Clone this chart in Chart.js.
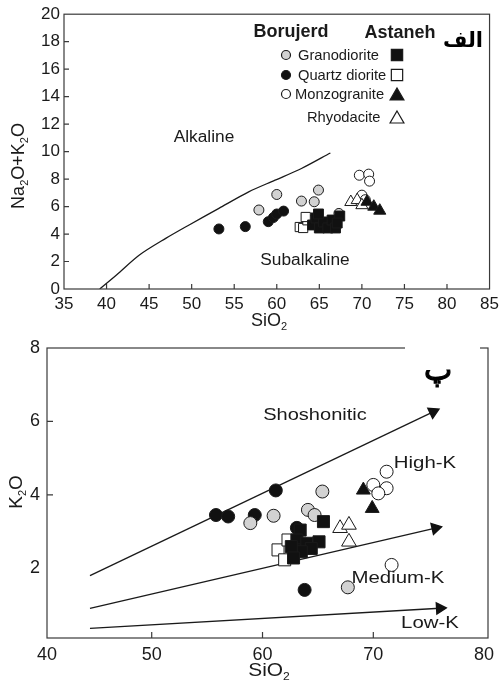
<!DOCTYPE html>
<html><head><meta charset="utf-8">
<script src="https://cdn.jsdelivr.net/npm/chart.js@4.4.0/dist/chart.umd.min.js"></script>
<style>
html,body{margin:0;padding:0;background:#fff;width:504px;height:684px;overflow:hidden}
canvas{position:absolute;left:0}
#c1{top:0}
#c2{top:330px}
</style>
</head><body>
<canvas id="c2" width="504" height="354"></canvas>
<canvas id="c1" width="504" height="336"></canvas>
<script>
// ================= DATA: chart 1 (TAS, Na2O+K2O vs SiO2) =================
const tasXTicks = [35, 40, 45, 50, 55, 60, 65, 70, 75, 80, 85];
const tasYTicks = [0, 2, 4, 6, 8, 10, 12, 14, 16, 18, 20];
const tasBoundarySiO2 = [39.2, 41.2, 43.9, 47.0, 49.7, 53.2, 56.7, 59.8, 62.9, 66.3];
const tasBoundaryAlk  = [0.0, 1.04, 2.49, 3.70, 4.66, 5.87, 7.07, 7.92, 8.77, 9.90];
// Borujerd
const tasBGranoSiO2 = [57.9, 60.0, 62.9, 64.4, 64.9, 67.3];
const tasBGranoAlk  = [5.75, 6.88, 6.40, 6.35, 7.20, 5.50];
const tasBQdSiO2 = [53.2, 56.3, 59.0, 59.6, 60.0, 60.8];
const tasBQdAlk  = [4.37, 4.54, 4.90, 5.20, 5.46, 5.67];
const tasBMonzoSiO2 = [69.7, 70.8, 70.9, 70.0, 70.4];
const tasBMonzoAlk  = [8.28, 8.36, 7.85, 6.83, 6.50];
// Astaneh
const tasAGranoSiO2 = [64.2, 64.6, 65.0, 65.5, 66.0, 66.5, 66.9, 67.4, 67.1, 64.9];
const tasAGranoAlk  = [4.66, 5.17, 4.44, 4.88, 4.44, 5.02, 4.44, 5.31, 4.80, 5.46];
const tasAQdSiO2 = [62.7, 63.1, 63.6, 63.4];
const tasAQdAlk  = [4.51, 4.44, 5.00, 5.24];
const tasAMonzoSiO2 = [70.6, 71.4, 72.1];
const tasAMonzoAlk  = [6.35, 5.99, 5.70];
const tasARhyoSiO2 = [68.7, 69.45, 70.0];
const tasARhyoAlk  = [6.33, 6.47, 6.10];

// ================= DATA: chart 2 (K2O vs SiO2) =================
const kXTickValues = [40.55, 50, 60, 70, 80];
const kXTickLabels = ['40', '50', '60', '70', '80'];
const kYTicks = [2, 4, 6, 8];
const kShoLineSiO2 = [44.43, 75.4];
const kShoLineK2O  = [1.80, 6.26];
const kHighLineSiO2 = [44.43, 75.6];
const kHighLineK2O  = [0.91, 3.09];
const kMedLineSiO2 = [44.43, 76.0];
const kMedLineK2O  = [0.36, 0.91];
// Borujerd
const kBGranoSiO2 = [58.9, 61.0, 64.1, 64.7, 65.4, 67.7];
const kBGranoK2O  = [3.23, 3.43, 3.59, 3.45, 4.09, 1.48];
const kBQdSiO2 = [55.8, 56.9, 59.3, 61.2, 63.8, 63.1];
const kBQdK2O  = [3.45, 3.41, 3.45, 4.12, 1.41, 3.10];
const kBMonzoSiO2 = [71.2, 70.0, 71.2, 70.45, 71.65];
const kBMonzoK2O  = [4.63, 4.27, 4.18, 4.04, 2.09];
// Astaneh
const kAGranoSiO2 = [65.5, 65.1, 63.4, 63.1, 62.9, 64.0, 64.4, 63.5, 62.6, 62.8];
const kAGranoK2O  = [3.27, 2.72, 3.04, 2.77, 2.50, 2.68, 2.54, 2.45, 2.59, 2.28];
const kAQdSiO2 = [61.4, 62.3, 62.0];
const kAQdK2O  = [2.50, 2.77, 2.23];
const kAMonzoSiO2 = [69.1, 69.9];
const kAMonzoK2O  = [4.13, 3.63];
const kARhyoSiO2 = [67.0, 67.8, 67.8];
const kARhyoK2O  = [3.09, 3.18, 2.72];

// ================= labels =================
const rockTypes = ['Granodiorite', 'Quartz diorite', 'Monzogranite', 'Rhyodacite'];
const plutons = ['Borujerd', 'Astaneh'];

// ================= helpers =================
const pts = (xs, ys) => xs.map((x, i) => ({x: x, y: ys[i]}));
const FONT = "'Liberation Sans', Arial, sans-serif";
const INK = '#1a1a1a';
const GRAY = '#d2d2d2';

function richText(ctx, segs, x, y, size, opts) {
  opts = opts || {};
  const fam = opts.family || FONT;
  const wt = opts.bold ? 'bold ' : '';
  const sx = opts.scaleX || 1;
  const fontFor = s => wt + (s[1] ? Math.round(size * 0.6) : size) + 'px ' + fam;
  let w = 0;
  segs.forEach(s => { ctx.font = fontFor(s); w += ctx.measureText(s[0]).width; });
  ctx.save();
  ctx.translate(x, y);
  if (opts.rotate) ctx.rotate(opts.rotate);
  ctx.scale(sx, 1);
  let cx = opts.align === 'left' ? 0 : (opts.align === 'right' ? -w : -w / 2);
  ctx.textBaseline = 'middle';
  ctx.textAlign = 'left';
  ctx.fillStyle = opts.color || INK;
  segs.forEach(s => {
    ctx.font = fontFor(s);
    ctx.fillText(s[0], cx, s[1] ? size * 0.32 : 0);
    if (opts.stroke) { ctx.strokeStyle = opts.color || INK; ctx.lineWidth = opts.stroke; ctx.strokeText(s[0], cx, s[1] ? size * 0.32 : 0); }
    cx += ctx.measureText(s[0]).width;
  });
  ctx.restore();
}

function frameAndTicks(chart, tickLen, skipEdges) {
  const ctx = chart.ctx, a = chart.chartArea;
  const xs = chart.scales.x, ys = chart.scales.y;
  ctx.save();
  ctx.strokeStyle = '#3a3a3a';
  ctx.lineWidth = 1.2;
  ctx.strokeRect(a.left, a.top, a.right - a.left, a.bottom - a.top);
  ctx.beginPath();
  xs.ticks.forEach((t, i) => {
    if (skipEdges && (i === 0 || i === xs.ticks.length - 1)) return;
    const p = xs.getPixelForValue(t.value);
    ctx.moveTo(p, a.bottom); ctx.lineTo(p, a.bottom - tickLen);
  });
  ys.ticks.forEach((t, i) => {
    if (skipEdges && (i === 0 || i === ys.ticks.length - 1)) return;
    const p = ys.getPixelForValue(t.value);
    ctx.moveTo(a.left, p); ctx.lineTo(a.left + tickLen, p);
  });
  ctx.stroke();
  ctx.restore();
}

function ds(label, data, style, r, order) {
  return Object.assign({
    type: 'scatter', label: label, data: data,
    pointRadius: r, pointHoverRadius: r, pointBorderWidth: 1,
    pointBorderColor: INK, order: order
  }, style);
}
const sGray = {pointStyle: 'circle', pointBackgroundColor: GRAY};
const sBlackC = {pointStyle: 'circle', pointBackgroundColor: '#111'};
const sWhiteC = {pointStyle: 'circle', pointBackgroundColor: '#fff'};
const sBlackS = {pointStyle: 'rect', pointBackgroundColor: '#111'};
const sWhiteS = {pointStyle: 'rect', pointBackgroundColor: '#fff'};
const sBlackT = {pointStyle: 'triangle', pointBackgroundColor: '#111'};
const sWhiteT = {pointStyle: 'triangle', pointBackgroundColor: '#fff'};

const baseTickFont = (size) => ({family: FONT, size: size});

// ================= CHART 1 =================
const deco1 = {
  id: 'deco1',
  afterDatasetsDraw(chart) {
    frameAndTicks(chart, 5, true);
    const ctx = chart.ctx;
    richText(ctx, [['Na', 0], ['2', 1], ['O+K', 0], ['2', 1], ['O', 0]], 19, 166, 18, {rotate: -Math.PI / 2});
    richText(ctx, [['SiO', 0], ['2', 1]], 269, 321, 18);
    richText(ctx, [['Alkaline', 0]], 204, 138, 16, {scaleX: 1.08});
    richText(ctx, [['Subalkaline', 0]], 305, 261, 16, {scaleX: 1.08});
    richText(ctx, [[plutons[0], 0]], 291, 32, 18, {bold: true});
    richText(ctx, [[plutons[1], 0]], 400, 33, 18, {bold: true});
    richText(ctx, [['الف', 0]], 463, 42, 21, {bold: true, family: "'DejaVu Sans', sans-serif", color: '#000'});
    // legend
    const metas = chart.data.datasets;
    const H = Chart.helpers;
    const rowY = [55, 75, 94, 117];
    const textX = [298, 298, 295, 307];
    const leftSets = [1, 2, 3, -1];
    const rightSets = [4, 5, 6, 7];
    for (let i = 0; i < 4; i++) {
      richText(ctx, [[rockTypes[i], 0]], textX[i], rowY[i] + 1, 15, {align: 'left', scaleX: 0.98});
      [[leftSets[i], 286], [rightSets[i], 397]].forEach(p => {
        if (p[0] < 0) return;
        const d = metas[p[0]];
        ctx.save();
        ctx.fillStyle = d.pointBackgroundColor;
        ctx.strokeStyle = INK;
        ctx.lineWidth = 1.2;
        const rr = d.pointStyle === 'circle' ? 4.5 : 8;
        H.drawPoint(ctx, {pointStyle: d.pointStyle, radius: rr, rotation: 0, borderWidth: 1.2}, p[1], rowY[i] + (d.pointStyle === 'triangle' ? 2 : 0));
        ctx.restore();
      });
    }
  }
};

new Chart(document.getElementById('c1'), {
  type: 'scatter',
  data: {
    datasets: [
      {type: 'line', label: 'boundary', data: pts(tasBoundarySiO2, tasBoundaryAlk), borderColor: INK, borderWidth: 1.3,
       pointRadius: 0, fill: false, tension: 0.3, order: 5},
      ds(plutons[0] + ' ' + rockTypes[0], pts(tasBGranoSiO2, tasBGranoAlk), sGray, 5, 3),
      ds(plutons[0] + ' ' + rockTypes[1], pts(tasBQdSiO2, tasBQdAlk), sBlackC, 5, 3),
      ds(plutons[0] + ' ' + rockTypes[2], pts(tasBMonzoSiO2, tasBMonzoAlk), sWhiteC, 5, 3),
      ds(plutons[1] + ' ' + rockTypes[0], pts(tasAGranoSiO2, tasAGranoAlk), sBlackS, 7, 1),
      ds(plutons[1] + ' ' + rockTypes[1], pts(tasAQdSiO2, tasAQdAlk), sWhiteS, 6.5, 2),
      ds(plutons[1] + ' ' + rockTypes[2], pts(tasAMonzoSiO2, tasAMonzoAlk), sBlackT, 7, 1),
      ds(plutons[1] + ' ' + rockTypes[3], pts(tasARhyoSiO2, tasARhyoAlk), sWhiteT, 7, 1)
    ]
  },
  options: {
    responsive: false, animation: false,
    layout: {padding: {top: 13, right: 10, left: 0, bottom: 0}},
    plugins: {legend: {display: false}, tooltip: {enabled: false}},
    scales: {
      x: {type: 'linear', min: 35, max: 85,
          afterFit: s => { s.height = 47; },
          afterBuildTicks: s => { s.ticks = tasXTicks.map(v => ({value: v})); },
          grid: {display: false, drawTicks: false}, border: {display: false},
          ticks: {font: baseTickFont(17), color: INK, padding: 5, maxRotation: 0, autoSkip: false}},
      y: {type: 'linear', min: 0, max: 20,
          afterFit: s => { s.width = 64; },
          afterBuildTicks: s => { s.ticks = tasYTicks.map(v => ({value: v})); },
          grid: {display: false, drawTicks: false}, border: {display: false},
          ticks: {font: baseTickFont(17), color: INK, padding: 4, autoSkip: false}}
    }
  },
  plugins: [deco1]
});

// ================= CHART 2 =================
const deco2 = {
  id: 'deco2',
  afterDatasetsDraw(chart) {
    frameAndTicks(chart, 6, true);
    const ctx = chart.ctx;
    // white patch over top border (as in the source image)
    ctx.save(); ctx.fillStyle = '#fff'; ctx.fillRect(405, 12, 75, 9); ctx.restore();
    richText(ctx, [['K', 0], ['2', 1], ['O', 0]], 17, 162, 19, {rotate: -Math.PI / 2});
    richText(ctx, [['SiO', 0], ['2', 1]], 269, 341, 19, {scaleX: 1.1});
    richText(ctx, [['Shoshonitic', 0]], 315, 85, 17, {scaleX: 1.18});
    richText(ctx, [['High-K', 0]], 425, 133, 17, {scaleX: 1.2});
    richText(ctx, [['Medium-K', 0]], 398, 248, 17, {scaleX: 1.2});
    richText(ctx, [['Low-K', 0]], 430, 293, 17, {scaleX: 1.2});
    richText(ctx, [['پ', 0]], 438, 42, 30, {family: "'DejaVu Sans', 'Noto Sans', sans-serif", color: '#000', stroke: 1.2});
  }
};

const arrowLine = (label, xs, ys, rot) => ({
  type: 'line', label: label, data: pts(xs, ys), borderColor: INK, borderWidth: 1.3, fill: false,
  pointRadius: [0, 6.5], pointStyle: 'triangle', rotation: rot,
  pointBackgroundColor: '#111', pointBorderColor: '#111', order: 5
});

new Chart(document.getElementById('c2'), {
  type: 'scatter',
  data: {
    datasets: [
      arrowLine('Shoshonitic / High-K', kShoLineSiO2, kShoLineK2O, 64.6),
      arrowLine('High-K / Medium-K', kHighLineSiO2, kHighLineK2O, 77),
      arrowLine('Medium-K / Low-K', kMedLineSiO2, kMedLineK2O, 86.8),
      ds(plutons[0] + ' ' + rockTypes[0], pts(kBGranoSiO2, kBGranoK2O), sGray, 6.5, 3),
      ds(plutons[0] + ' ' + rockTypes[1], pts(kBQdSiO2, kBQdK2O), sBlackC, 6.5, 3),
      ds(plutons[0] + ' ' + rockTypes[2], pts(kBMonzoSiO2, kBMonzoK2O), sWhiteC, 6.5, 3),
      ds(plutons[1] + ' ' + rockTypes[0], pts(kAGranoSiO2, kAGranoK2O), sBlackS, 8.5, 1),
      ds(plutons[1] + ' ' + rockTypes[1], pts(kAQdSiO2, kAQdK2O), sWhiteS, 8.5, 2),
      ds(plutons[1] + ' ' + rockTypes[2], pts(kAMonzoSiO2, kAMonzoK2O), sBlackT, 8, 1),
      ds(plutons[1] + ' ' + rockTypes[3], pts(kARhyoSiO2, kARhyoK2O), sWhiteT, 8.5, 1)
    ]
  },
  options: {
    responsive: false, animation: false,
    layout: {padding: {top: 18, right: 16, left: 0, bottom: 0}},
    plugins: {legend: {display: false}, tooltip: {enabled: false}},
    scales: {
      x: {type: 'linear', min: 40.55, max: 80.35,
          afterFit: s => { s.height = 46; },
          afterBuildTicks: s => { s.ticks = kXTickValues.map(v => ({value: v})); },
          grid: {display: false, drawTicks: false}, border: {display: false},
          ticks: {font: baseTickFont(18), color: INK, padding: 6, maxRotation: 0, autoSkip: false,
                  callback: (v, i) => kXTickLabels[i]}},
      y: {type: 'linear', min: 0.1, max: 8,
          afterFit: s => { s.width = 47; },
          afterBuildTicks: s => { s.ticks = kYTicks.map(v => ({value: v})); },
          grid: {display: false, drawTicks: false}, border: {display: false},
          ticks: {font: baseTickFont(18), color: INK, padding: 7, autoSkip: false}}
    }
  },
  plugins: [deco2]
});
</script>
</body></html>
